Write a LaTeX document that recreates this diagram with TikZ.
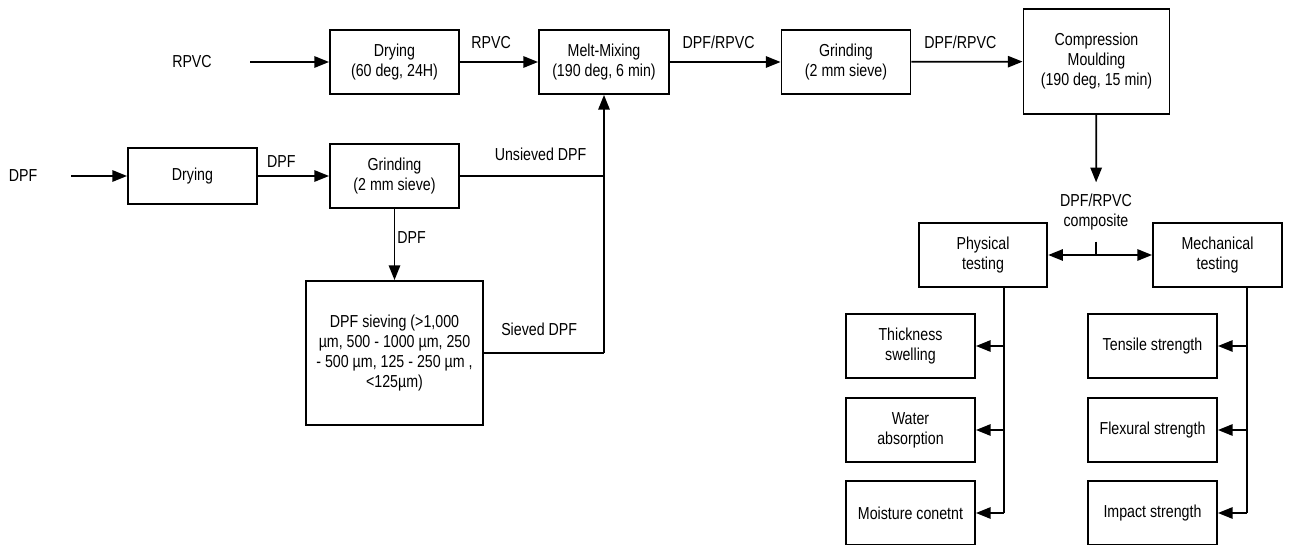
\documentclass[tikz,border=0pt]{standalone}
\usepackage{fontspec}
\setmainfont{Liberation Sans}[FakeStretch=0.82]
\usetikzlibrary{arrows.meta}
\newcommand{\dfont}{\fontsize{13pt}{15pt}\selectfont}
\tikzset{
  blk/.style={rectangle, draw, line width=1.4pt, align=center, inner sep=2pt,
              minimum width=96.75pt, minimum height=48pt},
  lbl/.style={inner sep=0pt, align=center},
  arr/.style={-{Triangle[length=11pt, width=8.5pt]}, line width=1.3pt},
  dbl/.style={{Triangle[length=11pt, width=8.5pt]}-{Triangle[length=11pt, width=8.5pt]}, line width=1.3pt},
  ln/.style={line width=1.3pt},
}

\begin{document}
\begin{tikzpicture}[x=0.75pt, y=-0.75pt, font=\dfont]
  \useasboundingbox (0,0) rectangle (1290,545);
  % upper line: RPVC
  \node[lbl] (rpvc) at (192,62) {RPVC};
  \node[blk] (dry1) at (394.5,62) {Drying\\(60 deg, 24H)};
  \node[blk, minimum width=97.5pt] (melt) at (604,62) {Melt-Mixing\\(190 deg, 6 min)};
  \node[blk] (grind2) at (846,62) {Grinding\\(2 mm sieve)};
  \node[blk, minimum width=109.5pt, minimum height=78.75pt] (comp) at (1096.5,61.5) {Compression\\Moulding\\(190 deg, 15 min)};
  % lower line: DPF
  \node[lbl] (dpf) at (23,176) {DPF};
  \node[blk, minimum height=42pt] (dry2) at (192.5,176) {Drying};
  \node[blk] (grind1) at (394.5,176) {Grinding\\(2 mm sieve)};
  \node[blk, minimum width=132.75pt, minimum height=108pt] (sieve) at (394.5,353)
    {DPF sieving (>1,000\\µm, 500 - 1000 µm, 250\\- 500 µm, 125 - 250 µm ,\\<125µm)};
  \coordinate (mj) at (melt.south |- sieve.east);
  % testing
  \node[lbl, inner ysep=8.5pt] (compo) at (1096,212) {DPF/RPVC\\composite};
  \node[blk, minimum width=96.4pt] (phys) at (983,255) {Physical\\testing};
  \node[blk] (mech) at (1217.5,255) {Mechanical\\testing};
  \node[blk] (thick) at (910.5,346) {Thickness\\swelling};
  \node[blk] (water) at (910.5,430) {Water\\absorption};
  \node[blk] (moist) at (910.5,513) {Moisture conetnt};
  \node[blk] (tens) at (1152.5,346) {Tensile strength};
  \node[blk] (flex) at (1152.5,430) {Flexural strength};
  \node[blk] (imp) at (1152.5,513) {Impact strength};
  \coordinate (pb) at (1004,513);
  \coordinate (mb) at (1247,513);

  \draw[arr, shorten <=28.5pt] (rpvc) -- (dry1);
  \draw[arr] (dry1) -- node[lbl, above=9.5pt, pos=0.4] {RPVC} (melt);
  \draw[arr] (melt) -- node[lbl, above=9.5pt, pos=0.44] {DPF/RPVC} (grind2);
  \draw[arr] (grind2) -- node[lbl, above=9.5pt, pos=0.44] {DPF/RPVC} (comp);
  \draw[arr, shorten <=25.5pt] (dpf) -- (dry2);
  \draw[arr] (dry2) -- node[lbl, above=5.7pt, pos=0.33] {DPF} (grind1);
  \draw[arr] (grind1) -- node[lbl, right=1.5pt, pos=0.4] {DPF} (sieve);
  \draw[ln] (grind1.east) -- node[lbl, above=11pt, pos=0.56] {Unsieved DPF} (grind1.east -| mj);
  \draw[ln] (sieve.east) -- node[lbl, above=12.5pt, pos=0.46] {Sieved DPF} (mj);
  \draw[arr] (mj) -- (melt.south);
  \draw[arr] (comp) -- (compo);
  \draw[ln] (compo.south) -- (compo.south |- phys.east);
  \draw[dbl] (phys) -- (mech);
  \draw[ln] (phys.south -| pb) -- (pb);
  \draw[arr] (thick.east -| pb) -- (thick.east);
  \draw[arr] (water.east -| pb) -- (water.east);
  \draw[arr] (pb) -- (moist.east);
  \draw[ln] (mech.south -| mb) -- (mb);
  \draw[arr] (tens.east -| mb) -- (tens.east);
  \draw[arr] (flex.east -| mb) -- (flex.east);
  \draw[arr] (mb) -- (imp.east);
\end{tikzpicture}
\end{document}
